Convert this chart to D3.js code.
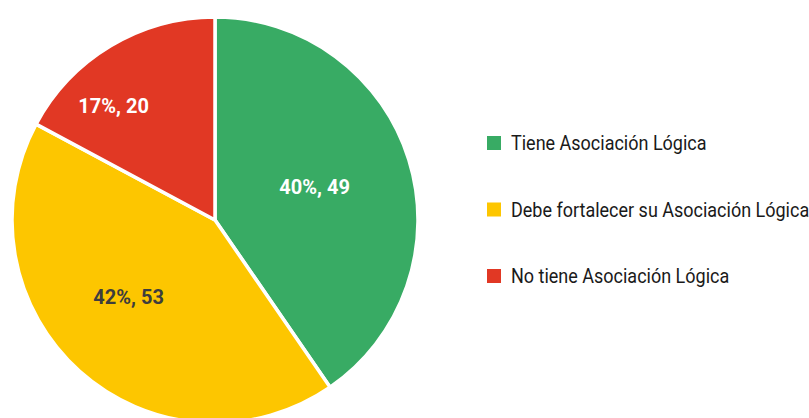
<!DOCTYPE html>
<html>
<head>
<meta charset="utf-8">
<script src="https://cdn.jsdelivr.net/npm/d3@7"></script>
<style>
  body { margin: 0; background: #fff; }
  svg { display: block; }
</style>
</head>
<body>
<svg width="809" height="418"></svg>
<script>
const categories = ["Tiene Asociación Lógica", "Debe fortalecer su Asociación Lógica", "No tiene Asociación Lógica"];
const percents = [40, 42, 17];
const counts = [49, 53, 20];
const colors = ["#38AB64", "#FDC600", "#E13824"];
const labelColors = ["#ffffff", "#3d3d3d", "#ffffff"];
// nudges so labels sit where the original best-fit put them
const labelNudge = [[-7, 0], [-12, -6], [-44, -18]];

const svg = d3.select("svg"),
    width = +svg.attr("width"),
    height = +svg.attr("height"),
    radius = 203,
    cx = 215,
    cy = 220;

const data = categories.map(function(c, i) {
    return { name: c, pct: percents[i], count: counts[i], color: colors[i], lc: labelColors[i], nudge: labelNudge[i] };
});

const pie = d3.pie()
    .sort(null)
    .value(function(d) { return d.pct; });

const arc = d3.arc().innerRadius(0).outerRadius(radius);
const labelArc = d3.arc().innerRadius(radius * 0.55).outerRadius(radius * 0.55);

const g = svg.append("g").attr("transform", "translate(" + cx + "," + cy + ")");

g.selectAll("path")
    .data(pie(data))
    .enter().append("path")
    .attr("d", arc)
    .attr("fill", function(d) { return d.data.color; })
    .attr("stroke", "#fff")
    .attr("stroke-width", 3.5)
    .attr("stroke-linejoin", "round");

g.selectAll("text")
    .data(pie(data))
    .enter().append("text")
    .attr("transform", function(d) {
        const c = labelArc.centroid(d);
        return "translate(" + (c[0] + d.data.nudge[0]) + "," + (c[1] + d.data.nudge[1]) + ")";
    })
    .attr("dy", "0.35em")
    .attr("text-anchor", "middle")
    .attr("font-family", "Roboto")
    .attr("font-weight", "bold")
    .attr("font-size", "20px")
    .attr("fill", function(d) { return d.data.lc; })
    .text(function(d) { return d.data.pct + "%, " + d.data.count; });

// legend
const legendY = d3.scalePoint()
    .domain(categories)
    .range([143, 276]);

const legend = svg.append("g").attr("class", "legend");

const item = legend.selectAll("g")
    .data(data)
    .enter().append("g")
    .attr("transform", function(d) { return "translate(487," + legendY(d.name) + ")"; });

item.append("rect")
    .attr("x", 0)
    .attr("y", -7)
    .attr("width", 14)
    .attr("height", 14)
    .attr("fill", function(d) { return d.color; });

item.append("text")
    .attr("dy", "0.36em")
    .attr("font-family", "Roboto")
    .attr("font-size", "20px")
    .attr("fill", "#1a1a1a")
    .attr("transform", "translate(24,0) scale(0.9,1)")
    .text(function(d) { return d.name; });
</script>
</body>
</html>
